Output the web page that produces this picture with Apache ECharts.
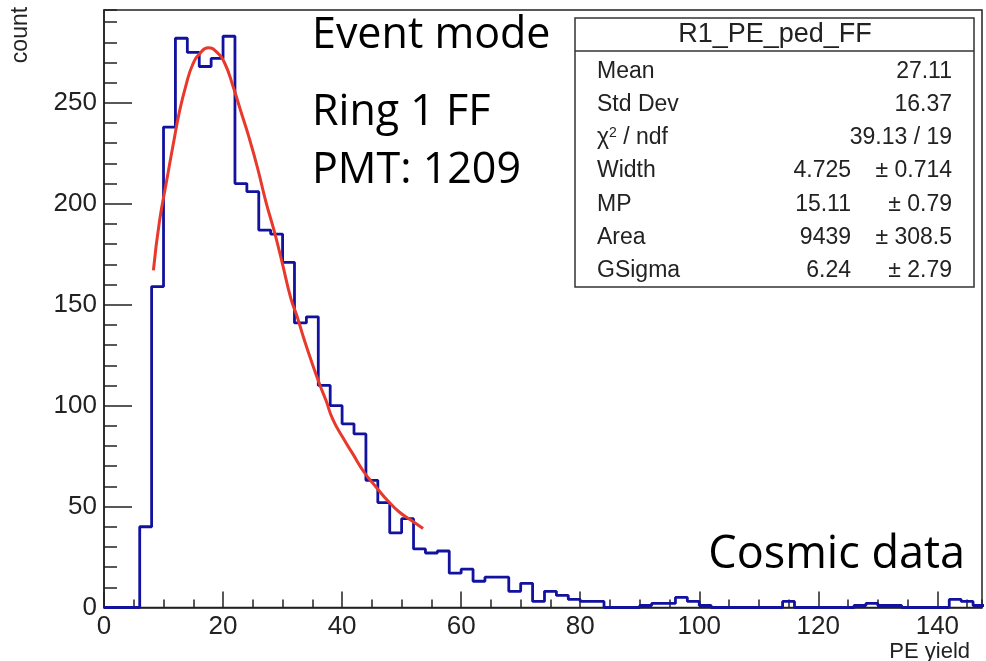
<!DOCTYPE html>
<html><head><meta charset="utf-8">
<script src="https://cdn.jsdelivr.net/npm/echarts@6/dist/echarts.min.js"></script>
<style>html,body{margin:0;padding:0;background:#fff}#c{width:986px;height:661px}</style>
</head><body><div id="c"></div>
<script>
// histogram bins (lower edges, width 2)
const binEdges = [0,2,4,6,8,10,12,14,16,18,20,22,24,26,28,30,32,34,36,38,40,42,44,46,48,50,52,54,56,58,60,62,64,66,68,70,72,74,76,78,80,82,84,86,88,90,92,94,96,98,100,102,104,106,108,110,112,114,116,118,120,122,124,126,128,130,132,134,136,138,140,142,144,146];
const binWidth = 2;
const counts = [0,0,0,40,159,238,282,275,268,272,283,210,206,187,185,171,141,144,110,100,91,86,63,52,37,44,29,27,28,17,19,13,15,15,8,12,3,8,6,4,3,3,0,0,0,1,2,2,5,3,1,0,0,0,0,0,0,3,0,0,0,0,0,1,2,1,1,0,0,0,0,4,3,1];
// fitted curve
const fitX = [8.3,9.3,10.5,11.6,12.7,13.8,14.9,16.1,17.5,18.9,20.3,21.7,23.0,24.4,25.8,27.2,28.6,30.0,31.4,32.4,33.6,34.9,36.3,37.3,38.4,40.1,41.8,43.7,45.7,47.6,49.6,51.6,53.6];
const fitY = [167,191,211,229,246,259,269,274.5,277.3,275.3,269.5,258,245.7,232.5,217.7,201,186.4,170,153,144.5,133,121.5,110,102.5,93.5,84.3,76.1,67,59.7,53.1,47.3,43.2,39.1];
// axes
const xMin = 0, xMax = 147.5, xInterval = 20, xMinor = 5;
const yMin = 0, yMax = 296, yInterval = 50, yMinor = 10;
// stats box
const statsTitle = 'R1_PE_ped_FF';
const statsLabels = ['Mean','Std Dev','{a|χ}{s|2}{a| / ndf}','Width','MP','Area','GSigma'];
const statsValues = ['27.11','16.37','39.13 / 19','4.725','15.11','9439','6.24'];
const statsErrors = ['','','','± 0.714','± 0.79','± 308.5','± 2.79'];
const annotations = ['Event mode','Ring 1 FF','PMT: 1209','Cosmic data'];

const histData = binEdges.map((e,i)=>[e,counts[i]]);
histData.push([binEdges[binEdges.length-1]+binWidth, counts[counts.length-1]]);
const fitData = fitX.map((x,i)=>[x,fitY[i]]);

const axisColor = '#222';
const lblFont = '"Liberation Sans", Arial, sans-serif';
const annFont = '"Open Sans", "Noto Sans", sans-serif';

const chart = echarts.init(document.getElementById('c'), null, {renderer:'canvas'});
const graphic = [];
// stats box
graphic.push({type:'rect', shape:{x:575, y:18, width:399, height:269}, style:{fill:'#fff', stroke:'#333', lineWidth:1.5}, z:10});
graphic.push({type:'line', shape:{x1:575, y1:51, x2:974, y2:51}, style:{stroke:'#333', lineWidth:1.5}, z:11});
graphic.push({type:'text', x:775, y:35, style:{text:statsTitle, font:'27px '+lblFont, fill:'#222', align:'center', verticalAlign:'middle'}, z:11});
statsLabels.forEach((l,i)=>{
  const y = 71.5 + i*33.2;
  graphic.push({type:'text', x:597, y:y, style:{text:l, font:'23px '+lblFont, fill:'#222', align:'left', verticalAlign:'middle',
    rich:{a:{fontSize:23, fontFamily:lblFont, fill:'#222'}, s:{fontSize:14, fontFamily:lblFont, fill:'#222', verticalAlign:'top', padding:[0,0,9,0]}}}, z:11});
  if (statsErrors[i]) {
    graphic.push({type:'text', x:851, y:y, style:{text:statsValues[i], font:'23px '+lblFont, fill:'#222', align:'right', verticalAlign:'middle'}, z:11});
    graphic.push({type:'text', x:952, y:y, style:{text:statsErrors[i], font:'23px '+lblFont, fill:'#222', align:'right', verticalAlign:'middle'}, z:11});
  } else {
    graphic.push({type:'text', x:952, y:y, style:{text:statsValues[i], font:'23px '+lblFont, fill:'#222', align:'right', verticalAlign:'middle'}, z:11});
  }
});
// annotations
const annPos = [[312,36,'left',43],[312,113,'left',43],[312,171,'left',43],[965,555,'right',45]];
annotations.forEach((t,i)=>{
  graphic.push({type:'text', x:annPos[i][0], y:annPos[i][1], style:{text:t, font:annPos[i][3]+'px '+annFont, fill:'#000', align:annPos[i][2], verticalAlign:'middle'}, z:12});
});
// axis titles
graphic.push({type:'text', x:21, y:35, rotation:Math.PI/2, style:{text:'count', font:'23px '+lblFont, fill:'#222', align:'center', verticalAlign:'middle'}, z:12});
graphic.push({type:'text', x:970, y:652, style:{text:'PE yield', font:'22px '+lblFont, fill:'#222', align:'right', verticalAlign:'middle'}, z:12});

chart.setOption({
  animation:false,
  backgroundColor:'#fff',
  grid:{left:104, top:10, right:4, bottom:53.5, show:true, borderColor:axisColor, borderWidth:1.5, backgroundColor:'transparent'},
  xAxis:[
    {type:'value', min:xMin, max:xMax, interval:xInterval,
     axisLine:{show:true, lineStyle:{color:axisColor, width:1.5}},
     axisTick:{show:true, inside:true, length:16, lineStyle:{color:axisColor, width:1.5}},
     minorTick:{show:false},
     splitLine:{show:false},
     axisLabel:{show:true, margin:6, fontSize:26, fontFamily:lblFont, color:'#222', showMaxLabel:false}},
    {type:'value', min:xMin, max:xMax, interval:xMinor, position:'bottom', offset:0,
     axisLine:{show:false}, axisLabel:{show:false}, splitLine:{show:false},
     axisTick:{show:true, inside:true, length:8, lineStyle:{color:axisColor, width:1.5}}}
  ],
  yAxis:[
    {type:'value', min:yMin, max:yMax, interval:yInterval,
     axisLine:{show:true, lineStyle:{color:axisColor, width:1.5}},
     axisTick:{show:true, inside:true, length:28, lineStyle:{color:axisColor, width:1.5}},
     splitLine:{show:false},
     axisLabel:{show:true, margin:7, fontSize:26, fontFamily:lblFont, color:'#222', showMaxLabel:false}},
    {type:'value', min:yMin, max:yMax, interval:yMinor, position:'left', offset:0,
     axisLine:{show:false}, axisLabel:{show:false}, splitLine:{show:false},
     axisTick:{show:true, inside:true, length:13, lineStyle:{color:axisColor, width:1.5}}}
  ],
  series:[
    {type:'line', name:'hist', xAxisIndex:0, yAxisIndex:0, data:histData, step:'end', symbol:'none',
     lineStyle:{color:'#12129e', width:2.8}, z:3},
    {type:'line', name:'fit', xAxisIndex:0, yAxisIndex:0, data:fitData, smooth:true, symbol:'none',
     lineStyle:{color:'#e8392c', width:3}, z:4}
  ],
  graphic:graphic
});
</script></body></html>
